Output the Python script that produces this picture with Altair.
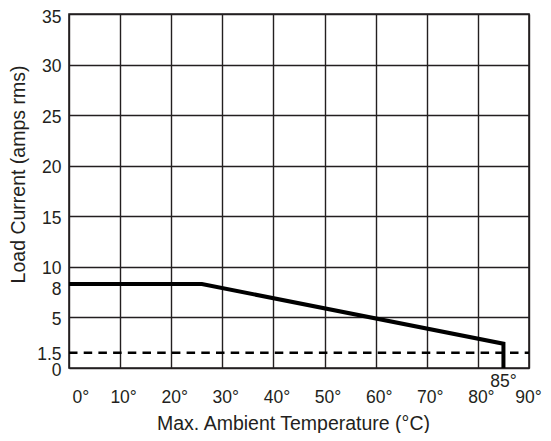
import altair as alt
import pandas as pd

# Derating curve (temperature °C, load current A rms)
curve_x = [0, 26, 85, 85]
curve_y = [8.3, 8.3, 2.4, 0]

# Dashed minimum-current line
min_current = 1.5
x_ticks = [0, 10, 20, 30, 40, 50, 60, 70, 80, 90]
y_ticks = [0, 1.5, 5, 8, 10, 15, 20, 25, 30, 35]
marker_temp = [85]
marker_label = ["85°"]

FONT = "Liberation Sans"
INK = "#231f20"
W, H = 460, 354

curve_df = pd.DataFrame({"x": curve_x, "y": curve_y, "order": list(range(len(curve_x)))})
dash_df = pd.DataFrame({"x": [x_ticks[0]], "x2": [x_ticks[-1]], "y": [min_current]})
mark_df = pd.DataFrame({"x": marker_temp, "label": marker_label})

xscale = alt.Scale(domain=[0, 90], nice=False, zero=False)
yscale = alt.Scale(domain=[0, 35], nice=False)

xaxis = alt.Axis(
    values=x_ticks,
    labelExpr="datum.value + '°'",
    labelFlush=False,
    labelOverlap=False,
    labelAlign={"condition": {"test": "datum.value == 0", "value": "left"}, "value": "center"},
    labelOffset={"condition": {"test": "datum.value == 90", "value": -1}, "value": 3},
    labelPadding=20,
    labelFont=FONT,
    labelFontSize=17.5,
    labelColor=INK,
    ticks=False,
    tickSize=0,
    domain=False,
    grid=True,
    gridColor=INK,
    gridWidth=1.4,
    gridOpacity=1,
    title="Max. Ambient Temperature (°C)",
    titleFont=FONT,
    titleFontSize=19.5,
    titleFontWeight="normal",
    titleColor=INK,
    titleX=224,
    titleY=55,
    titleBaseline="middle",
    titleAlign="center",
)

yaxis = alt.Axis(
    values=y_ticks,
    format="~g",
    labelOverlap=False,
    labelPadding=8,
    labelOffset={"condition": {"test": "datum.value == 35", "value": 3.5}, "value": 2},
    labelFont=FONT,
    labelFontSize=17.5,
    labelColor=INK,
    ticks=False,
    tickSize=0,
    domain=False,
    grid=True,
    gridColor=INK,
    gridWidth=1.4,
    gridOpacity={"condition": {"test": "datum.value == 1.5 || datum.value == 8", "value": 0}, "value": 1},
    title="Load Current (amps rms)",
    titleFont=FONT,
    titleFontSize=19.5,
    titleFontWeight="normal",
    titleColor=INK,
    titleX=-51,
    titleY=160,
    titleBaseline="middle",
    titleAlign="center",
    titleAngle=270,
)

curve = alt.Chart(curve_df).mark_line(color="black", strokeWidth=4, strokeJoin="miter", strokeCap="butt").encode(
    x=alt.X("x:Q", scale=xscale, axis=xaxis),
    y=alt.Y("y:Q", scale=yscale, axis=yaxis),
    order="order:Q",
)

dashed = alt.Chart(dash_df).mark_rule(color="black", strokeWidth=2.5, strokeDash=[8.5, 6.2]).encode(
    x=alt.X("x:Q", scale=xscale, axis=xaxis),
    x2="x2:Q",
    y=alt.Y("y:Q", scale=yscale, axis=yaxis),
)

label85 = alt.Chart(mark_df).mark_text(
    font=FONT, fontSize=17.5, color=INK, align="center", baseline="middle"
).encode(
    x=alt.X("x:Q", scale=xscale, axis=xaxis),
    y=alt.value(H + 14),
    text="label:N",
)

chart = alt.layer(curve, dashed, label85).properties(
    width=W,
    height=H,
    autosize=alt.AutoSizeParams(type="none"),
    padding={"left": 61, "top": 6, "right": 14, "bottom": 65},
    background="white",
).configure_view(stroke=INK, strokeWidth=1.6)

chart.save("out.html", embed_options={"renderer": "svg", "actions": False})
